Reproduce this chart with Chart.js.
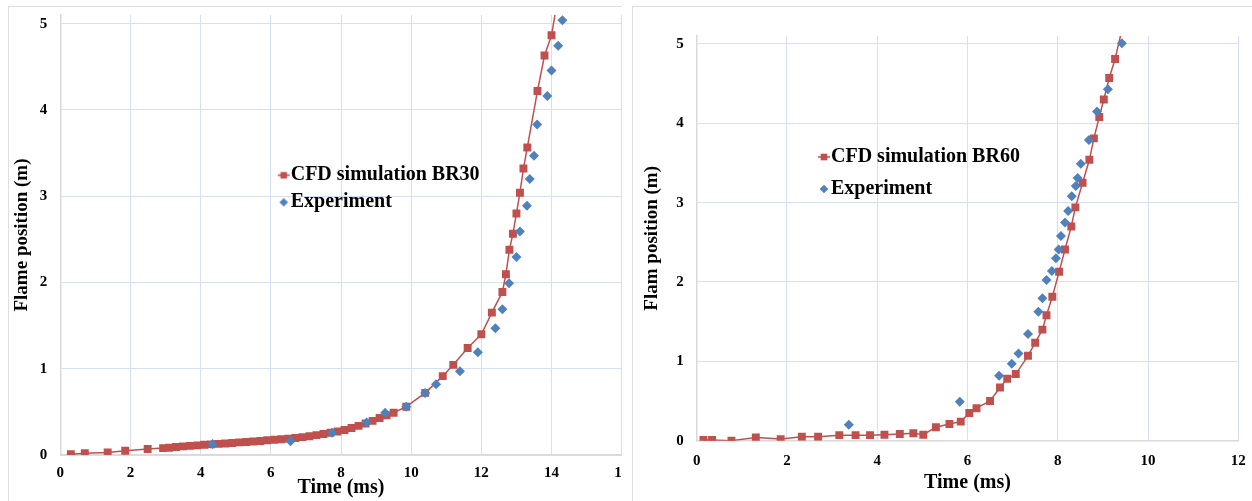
<!DOCTYPE html>
<html><head><meta charset="utf-8">
<script src="https://cdn.jsdelivr.net/npm/chart.js@4.4.1/dist/chart.umd.min.js"></script>
<style>
html,body{margin:0;padding:0;background:#fff;width:1252px;height:501px;overflow:hidden;}
.panel{position:absolute;top:6px;height:500px;border-top:1px solid #dedede;border-left:1px solid #dedede;overflow:hidden;background:#fff;}
#pl{left:8px;width:613px;}
#pr{left:632px;width:619px;}
canvas{display:block;}
</style></head><body>
<div class="panel" id="pl"><canvas id="c1" width="660" height="494" style="width:660px;height:494px"></canvas></div>
<div class="panel" id="pr"><canvas id="c2" width="619" height="494" style="width:619px;height:494px"></canvas></div>
<script>
// ---- Left chart (BR30) ----
const leftCfdTime = [0.3,0.7,1.35,1.85,2.49,2.93,3.1,3.3,3.5,3.7,3.9,4.1,4.3,4.5,4.7,4.9,5.1,5.3,5.5,5.7,5.9,6.1,6.3,6.5,6.7,6.9,7.1,7.3,7.5,7.7,7.9,8.1,8.3,8.5,8.7,8.9,9.1,9.3,9.5,9.86,10.4,10.9,11.2,11.61,12.0,12.3,12.6,12.7,12.8,12.9,13.0,13.1,13.2,13.31,13.6,13.8,14.0,14.2];
const leftCfdPos = [0.01,0.02,0.03,0.05,0.07,0.08,0.085,0.092,0.100,0.106,0.112,0.118,0.123,0.129,0.134,0.140,0.146,0.151,0.157,0.163,0.170,0.176,0.183,0.190,0.198,0.207,0.218,0.230,0.243,0.257,0.272,0.290,0.312,0.338,0.366,0.396,0.428,0.460,0.490,0.56,0.72,0.914,1.045,1.24,1.40,1.65,1.89,2.095,2.38,2.565,2.80,3.04,3.32,3.565,4.22,4.63,4.865,5.35];
const leftExpTime = [4.34,6.56,7.74,8.73,9.26,9.86,10.4,10.71,11.39,11.9,12.4,12.6,12.79,13.0,13.1,13.3,13.38,13.5,13.59,13.88,14.0,14.19,14.31];
const leftExpPos = [0.127,0.158,0.258,0.378,0.49,0.56,0.72,0.82,0.97,1.19,1.47,1.69,1.99,2.295,2.59,2.89,3.20,3.47,3.83,4.16,4.456,4.745,5.04];
// ---- Right chart (BR60) ----
const rightCfdTime = [0.15,0.34,0.77,1.31,1.86,2.33,2.69,3.16,3.52,3.84,4.16,4.5,4.8,5.02,5.3,5.6,5.85,6.04,6.2,6.5,6.72,6.88,7.07,7.34,7.5,7.66,7.75,7.88,8.03,8.16,8.30,8.39,8.55,8.70,8.80,8.92,9.02,9.14,9.27,9.45];
const rightCfdPos = [0.01,0.01,0.0,0.04,0.02,0.05,0.05,0.07,0.07,0.07,0.076,0.085,0.093,0.076,0.17,0.21,0.24,0.35,0.41,0.50,0.67,0.78,0.84,1.07,1.235,1.40,1.58,1.815,2.13,2.41,2.70,2.94,3.25,3.54,3.81,4.08,4.30,4.57,4.81,5.25];
const rightExpTime = [3.37,5.83,6.7,6.98,7.13,7.34,7.57,7.66,7.75,7.87,7.96,8.02,8.07,8.16,8.23,8.31,8.40,8.44,8.51,8.69,8.87,9.11,9.42];
const rightExpPos = [0.20,0.49,0.82,0.97,1.10,1.345,1.625,1.795,2.025,2.14,2.30,2.41,2.58,2.75,2.895,3.08,3.21,3.31,3.49,3.79,4.15,4.43,5.01];
// ---- Labels / ticks ----
const leftLegendLabels = ['CFD simulation BR30','Experiment'];
const rightLegendLabels = ['CFD simulation BR60','Experiment'];
const xTitle = 'Time (ms)';
const leftYTitle = 'Flame position (m)';
const rightYTitle = 'Flam position (m)';
const leftXMax = 16, rightXMax = 12, xStep = 2;
const yMin = 0, yMax = 5.1;
const yTickValues = [0, 1, 2, 3, 4, 5];

const RED = '#c0504d', BLUE = '#4f81bd', GRID = '#d6dff4', AXIS = '#d9d9d9';
const FONT = "'Liberation Serif', 'Times New Roman', serif";

function marker(kind){
  const c = document.createElement('canvas'); c.width = 30; c.height = 14;
  const g = c.getContext('2d'); const cx = 19, cy = 7;
  if (kind === 'cfd') {
    g.strokeStyle = RED; g.lineWidth = 1.5; g.beginPath(); g.moveTo(cx-6, cy); g.lineTo(cx+6, cy); g.stroke();
    g.fillStyle = RED; g.fillRect(cx-3.3, cy-3.3, 6.6, 6.6);
  } else {
    g.fillStyle = BLUE; g.beginPath(); g.moveTo(cx-4.3, cy); g.lineTo(cx, cy-4.3); g.lineTo(cx+4.3, cy); g.lineTo(cx, cy+4.3); g.closePath(); g.fill();
  }
  return c;
}
const mCfd = marker('cfd'), mExp = marker('exp');

const legendPlacer = {
  id: 'legendPlacer',
  afterUpdate(chart, args, opts) {
    const lg = chart.legend; if (!lg) return;
    lg.left = opts.left; lg.top = opts.top; lg.width = 320; lg.height = 120;
    lg.right = lg.left + 320; lg.bottom = lg.top + 120;
  }
};

function build(id, o) {
  const pts = (t, v) => t.map((x, i) => ({x: x, y: v[i]}));
  const tickFont = {family: FONT, size: 15, weight: 'bold'};
  return new Chart(document.getElementById(id), {
    type: 'scatter',
    data: {datasets: [
      {label: o.labels[0], data: pts(o.cfdT, o.cfdV), showLine: true, borderColor: RED, borderWidth: 1.5,
       backgroundColor: RED, pointStyle: 'rect', pointRadius: 5.6, pointBorderWidth: 0, pointBackgroundColor: RED, order: 1, tension: 0},
      {label: o.labels[1], data: pts(o.expT, o.expV), showLine: false, borderColor: BLUE, backgroundColor: BLUE,
       pointStyle: 'rectRot', pointRadius: 5, pointBorderWidth: 0, pointBackgroundColor: BLUE, order: 0}
    ]},
    options: {
      responsive: false, animation: false, devicePixelRatio: 1,
      layout: {padding: o.pad},
      plugins: {
        tooltip: {enabled: false},
        legend: {
          display: true, position: 'chartArea', align: 'start',
          labels: {
            usePointStyle: true, boxWidth: 2, boxHeight: 8, padding: o.legPad, color: '#000',
            font: {family: FONT, size: 20, weight: 'bold'},
            generateLabels: () => [
              {text: o.labels[0], pointStyle: mCfd, fillStyle: RED, strokeStyle: RED, lineWidth: 0, hidden: false, datasetIndex: 0, fontColor: '#000', rotation: 0},
              {text: o.labels[1], pointStyle: mExp, fillStyle: BLUE, strokeStyle: BLUE, lineWidth: 0, hidden: false, datasetIndex: 1, fontColor: '#000', rotation: 0}
            ]
          }
        },
        legendPlacer: {left: o.legLeft, top: o.legTop}
      },
      scales: {
        x: {
          type: 'linear', min: 0, max: o.xMax,
          ticks: {stepSize: xStep, padding: o.xTickPad, color: '#000', font: tickFont, maxRotation: 0},
          grid: {color: GRID, drawTicks: false, lineWidth: 1},
          border: {color: AXIS, width: 1.5},
          title: {display: true, text: xTitle, color: '#000', font: {family: FONT, size: 20, weight: 'bold'}, padding: {top: 0, bottom: o.xTitlePad}},
          afterFit: s => { s.height = o.xH; s.paddingLeft = 0; s.paddingRight = 0; }
        },
        y: {
          type: 'linear', min: yMin, max: yMax,
          afterBuildTicks: s => { s.ticks = yTickValues.map(v => ({value: v})); },
          ticks: {padding: 13, color: '#000', font: tickFont},
          grid: {color: GRID, drawTicks: false, lineWidth: 1},
          border: {color: AXIS, width: 1.5},
          title: {display: true, text: o.yTitle, color: '#000', font: {family: FONT, size: 19, weight: 'bold'}, padding: {top: o.yTitlePad, bottom: 0}},
          afterFit: s => { s.width = o.yW; s.paddingTop = 0; s.paddingBottom = 0; }
        }
      }
    },
    plugins: [legendPlacer]
  });
}

build('c1', {
  labels: leftLegendLabels, cfdT: leftCfdTime, cfdV: leftCfdPos, expT: leftExpTime, expV: leftExpPos,
  pad: {left: 0, top: 8, right: 47.3, bottom: 0}, yW: 51.3, xH: 46, xTickPad: 9.2, xTitlePad: 1, yTitlePad: 1.3,
  yTitle: leftYTitle, legLeft: 262.7, legTop: 151.3, legPad: 7, xMax: leftXMax
});
build('c2', {
  labels: rightLegendLabels, cfdT: rightCfdTime, cfdV: rightCfdPos, expT: rightExpTime, expV: rightExpPos,
  pad: {left: 0, top: 29, right: 13.7, bottom: 0}, yW: 63.7, xH: 60.3, xTickPad: 11.2, xTitlePad: 5.7, yTitlePad: 7.6,
  yTitle: rightYTitle, legLeft: 174, legTop: 128, legPad: 12, xMax: rightXMax
});
</script>
</body></html>
